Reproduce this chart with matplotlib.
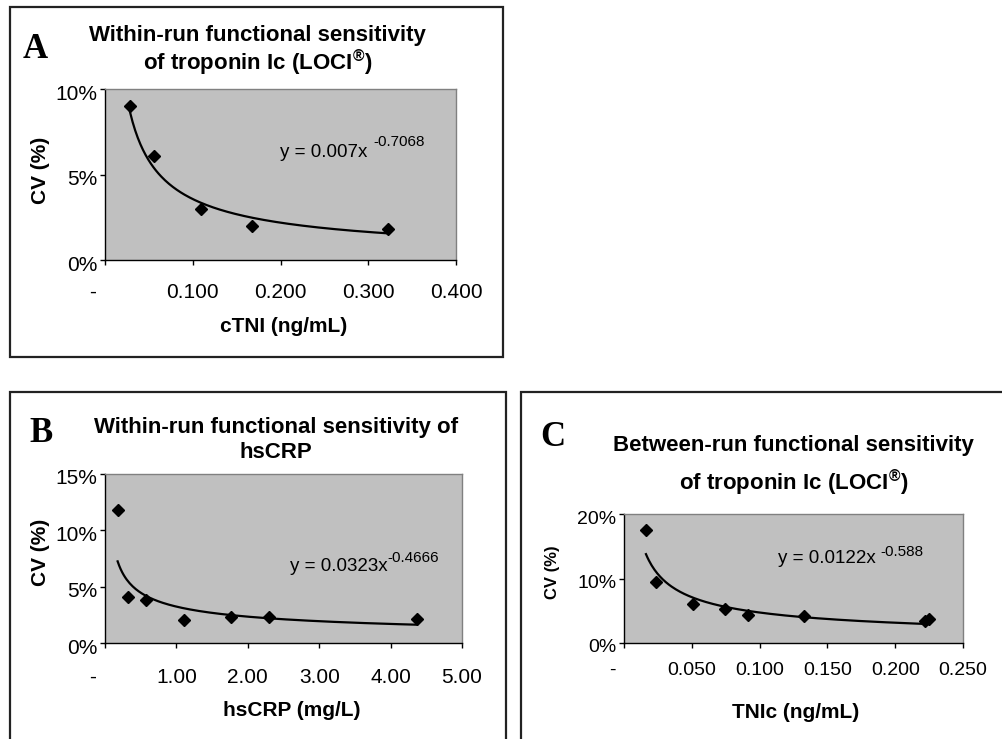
import numpy as np
import matplotlib
matplotlib.use('Agg')
import matplotlib.pyplot as plt
import matplotlib.transforms as mtransforms
from matplotlib.patches import Rectangle

plt.rcParams['font.family'] = ['Liberation Sans', 'DejaVu Sans']
plt.rcParams['mathtext.fontset'] = 'custom'
plt.rcParams['mathtext.rm'] = 'Liberation Sans'
plt.rcParams['mathtext.bf'] = 'Liberation Sans:bold'

W, H = 1003, 739

# A: within-run cTnI
a_x = [0.0285, 0.0559, 0.109, 0.168, 0.323]
a_cv = [9.02, 6.08, 2.98, 1.98, 1.82]
a_coef, a_exp = 0.007, -0.7068
a_xticks = [0, 0.1, 0.2, 0.3, 0.4]
a_xlabels = ['-', '0.100', '0.200', '0.300', '0.400']
a_yticks = [0, 5, 10]

# B: within-run hsCRP
b_x = [0.177, 0.317, 0.574, 1.10, 1.77, 2.29, 4.37]
b_cv = [11.79, 4.04, 3.83, 2.03, 2.27, 2.30, 2.15]
b_coef, b_exp = 0.0323, -0.4666
b_xticks = [0, 1, 2, 3, 4, 5]
b_xlabels = ['-', '1.00', '2.00', '3.00', '4.00', '5.00']
b_yticks = [0, 5, 10, 15]

# C: between-run TnIc
c_x = [0.0162, 0.0234, 0.0512, 0.0743, 0.0918, 0.133, 0.222, 0.2247]
c_cv = [17.46, 9.38, 6.11, 5.23, 4.35, 4.20, 3.40, 3.68]
c_coef, c_exp = 0.0122, -0.588
c_xticks = [0, 0.05, 0.1, 0.15, 0.2, 0.25]
c_xlabels = ['-', '0.050', '0.100', '0.150', '0.200', '0.250']
c_yticks = [0, 10, 20]

fig = plt.figure(figsize=(W / 100, H / 100), dpi=100)


def fx(x):
    return x / W


def fy(y):
    return 1 - y / H


def add_panel(l, t, r, b, xs, cvs, coef, expo, xticks, xlabels, yticks,
              tick_fs, xpad, eq_pos, eq_text, sup_text, sup_off):
    ax = fig.add_axes([fx(l), fy(b), (r - l) / W, (b - t) / H])
    ax.set_facecolor('#c0c0c0')
    for s in ['top', 'right']:
        ax.spines[s].set_color('#808080')
        ax.spines[s].set_linewidth(1)
    for s in ['left', 'bottom']:
        ax.spines[s].set_color('black')
        ax.spines[s].set_linewidth(1)

    # power trendline from the fitted equation shown on the chart
    xx = np.linspace(min(xs), max(xs), 200)
    ax.plot(xx, coef * xx ** expo * 100, color='black', lw=1.6, zorder=2)
    ax.plot(xs, cvs, 'D', color='black', ms=6.5, zorder=3, clip_on=False)

    ax.set_xlim(xticks[0], xticks[-1])
    ax.set_ylim(yticks[0], yticks[-1])
    ax.set_xticks(xticks)
    ax.set_xticklabels(xlabels)
    ax.set_yticks(yticks)
    ax.set_yticklabels([f'{v}%' for v in yticks])
    ax.tick_params(axis='x', direction='out', length=3.6, width=1,
                   pad=xpad, labelsize=tick_fs)
    ax.tick_params(axis='y', direction='out', length=3.6, width=1,
                   pad=2, labelsize=tick_fs)
    # the zero label "-" sits left of the origin
    lab0 = ax.get_xticklabels()[0]
    lab0.set_transform(lab0.get_transform() +
                       mtransforms.Affine2D().translate(-12, 0))
    for lab in ax.get_yticklabels():
        lab.set_transform(lab.get_transform() +
                          mtransforms.Affine2D().translate(0, -3))

    t_eq = ax.text(eq_pos[0], eq_pos[1], eq_text, transform=ax.transAxes,
                   fontsize=13.5, va='center', ha='left')
    ax.annotate(sup_text, xy=(1, 0.5), xycoords=t_eq, xytext=sup_off,
                textcoords='offset pixels', fontsize=11, va='center',
                ha='left')
    return ax


add_panel(105, 89, 456, 260, a_x, a_cv, a_coef, a_exp, a_xticks, a_xlabels,
          a_yticks, 15, 13, (0.499, 0.63), 'y = 0.007x', '-0.7068', (6, 10))
add_panel(105, 474, 462, 643, b_x, b_cv, b_coef, b_exp, b_xticks, b_xlabels,
          b_yticks, 15, 14.4, (0.518, 0.45), 'y = 0.0323x', '-0.4666', (0, 9))
add_panel(624, 514, 963, 643, c_x, c_cv, c_coef, c_exp, c_xticks, c_xlabels,
          c_yticks, 14, 10, (0.453, 0.658), 'y = 0.0122x', '-0.588', (5, 6))

# panel frames
for (l, t, r, b) in [(10, 7, 503, 357), (10, 392, 506, 760), (521, 392, 1020, 760)]:
    fig.patches.append(Rectangle((fx(l), fy(b)), (r - l) / W, (b - t) / H,
                                 transform=fig.transFigure, fill=False,
                                 lw=1.6, ec='#222222'))

# titles
loci = 'of troponin Ic (LOCI$^{\\mathbf{\u00ae}}$)'
tkw = dict(fontsize=16, fontweight='bold', ha='center', va='center')
fig.text(fx(257), fy(35), 'Within-run functional sensitivity', **tkw)
fig.text(fx(258), fy(63), loci, **tkw)
fig.text(fx(276), fy(428), 'Within-run functional sensitivity of', **tkw)
fig.text(fx(276), fy(453), 'hsCRP', **tkw)
fig.text(fx(793), fy(445), 'Between-run functional sensitivity', **tkw)
fig.text(fx(794), fy(483), loci, **tkw)

# panel letters
lkw = dict(fontsize=25, fontweight='bold', ha='center', va='center',
           family='Liberation Serif')
fig.text(fx(35), fy(49), 'A', **lkw)
fig.text(fx(41), fy(433), 'B', **lkw)
fig.text(fx(553), fy(437), 'C', **lkw)

# axis titles
akw = dict(fontsize=15, fontweight='bold', ha='center', va='center')
fig.text(fx(284), fy(327), 'cTNI (ng/mL)', **akw)
fig.text(fx(41), fy(170), 'CV (%)', rotation=90, **akw)
fig.text(fx(292), fy(710), 'hsCRP (mg/L)', **akw)
fig.text(fx(41), fy(552), 'CV (%)', rotation=90, **akw)
fig.text(fx(796), fy(713), 'TNIc (ng/mL)', **akw)
fig.text(fx(553), fy(572), 'CV (%)', rotation=90,
         **dict(akw, fontsize=12))

fig.savefig('out.png', dpi=100)
